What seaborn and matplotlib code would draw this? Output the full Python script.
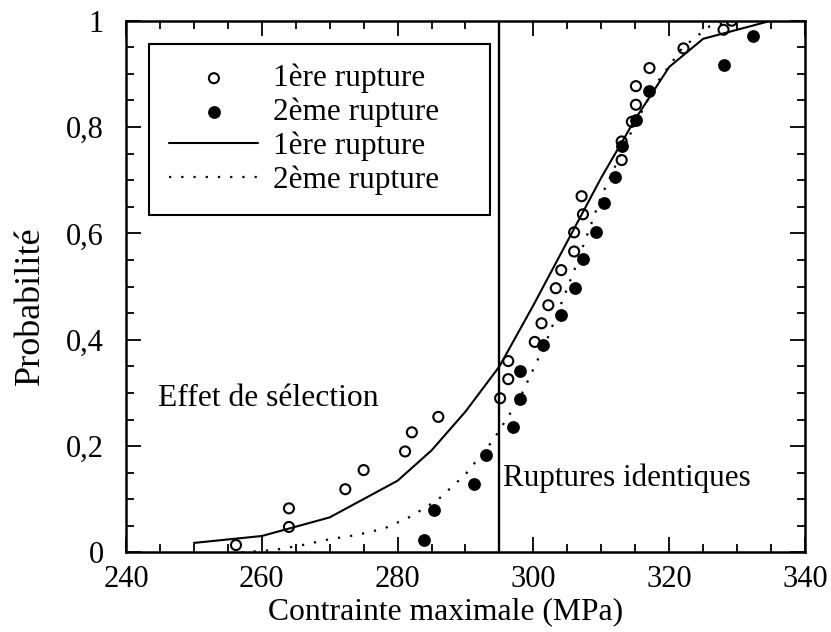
import seaborn as sns
import matplotlib.pyplot as plt
from matplotlib.ticker import MultipleLocator

# measured points (contrainte en MPa, probabilite)
first_x = [256.2, 264.0, 264.0, 272.3, 275.0, 281.1, 282.1, 286.0, 295.1, 296.3,
           296.3, 300.2, 301.2, 302.2, 303.3, 304.1, 306.0, 306.0, 307.3, 307.1,
           313.0, 313.0, 314.5, 315.1, 315.1, 317.1, 322.1, 328.0, 329.2]
first_y = [0.014, 0.048, 0.083, 0.119, 0.155, 0.190, 0.226, 0.255, 0.290, 0.326,
           0.360, 0.396, 0.431, 0.465, 0.497, 0.531, 0.566, 0.602, 0.636, 0.670,
           0.738, 0.773, 0.810, 0.842, 0.877, 0.911, 0.948, 0.983, 1.000]

second_x = [283.9, 285.3, 291.2, 293.0, 297.0, 298.1, 298.1, 301.4, 304.1, 306.2,
            307.3, 309.2, 310.4, 312.0, 313.0, 315.1, 317.1, 328.0, 332.3]
second_y = [0.024, 0.079, 0.128, 0.183, 0.236, 0.289, 0.341, 0.390, 0.446, 0.497,
            0.551, 0.602, 0.658, 0.707, 0.764, 0.814, 0.867, 0.917, 0.972]

# fitted curves
fit1_x = [250, 260, 270, 280, 285, 290, 295, 300, 305, 310, 315, 320, 325, 335]
fit1_y = [0.018, 0.031, 0.066, 0.135, 0.192, 0.265, 0.350, 0.465, 0.585, 0.705,
          0.815, 0.913, 0.966, 1.0]

fit2_x = [257, 262, 266, 270, 274, 278, 282, 286, 290, 294, 298, 302, 306, 310,
          314, 318, 322, 326, 330, 334]
fit2_y = [0.0, 0.005, 0.014, 0.025, 0.033, 0.045, 0.068, 0.100, 0.147, 0.210,
          0.290, 0.400, 0.530, 0.670, 0.780, 0.880, 0.950, 0.990, 1.0, 1.0]

seuil = 295
yticks = [0, 0.2, 0.4, 0.6, 0.8, 1]
ytick_labels = ["0", "0,2", "0,4", "0,6", "0,8", "1"]
xticks = [240, 260, 280, 300, 320, 340]

sns.set_theme(style="ticks")
plt.rcParams["font.family"] = ["Liberation Serif", "DejaVu Serif"]
plt.rcParams["text.color"] = "black"
plt.rcParams["axes.labelcolor"] = "black"

fig = plt.figure(figsize=(8.31, 6.32), dpi=100)
ax = fig.add_axes([0.1516, 0.1258, 0.8171, 0.8414])

sns.lineplot(x=fit1_x, y=fit1_y, sort=False, estimator=None, color="black",
             linewidth=1.5, label="1ère rupture", ax=ax)
sns.lineplot(x=fit2_x, y=fit2_y, sort=False, estimator=None, color="black",
             linewidth=1.6, linestyle=(0, (1, 4.5)), label="2ème rupture", ax=ax)
sns.scatterplot(x=first_x, y=first_y, marker="o", s=52, facecolors="none",
                edgecolors="black", linewidth=1.5, label="1ère rupture", ax=ax,
                zorder=3)
sns.scatterplot(x=second_x, y=second_y, marker="o", s=85, color="black",
                linewidth=0, label="2ème rupture", ax=ax, zorder=3)
ax.axvline(seuil, color="black", linewidth=1.7)

ax.text(244.7, 0.29, "Effet de sélection", fontsize=22.8, va="center", ha="left",
        color="black")
ax.text(295.5, 0.14, "Ruptures identiques", fontsize=22.3, va="center", ha="left",
        color="black")

ax.set_xlim(240, 340)
ax.set_ylim(0, 1)
ax.set_xticks(xticks)
ax.set_yticks(yticks)
ax.set_yticklabels(ytick_labels)
ax.xaxis.set_minor_locator(MultipleLocator(5))
ax.yaxis.set_minor_locator(MultipleLocator(0.05))
ax.tick_params(which="both", direction="in", top=True, right=True,
               width=1.3, labelsize=22, colors="black")
ax.tick_params(which="major", length=11)
ax.tick_params(which="minor", length=5.8)
ax.tick_params(axis="x", pad=9)
ax.tick_params(axis="y", pad=16)
for sp in ax.spines.values():
    sp.set_visible(True)
    sp.set_linewidth(1.8)
    sp.set_color("black")

ax.set_xlabel("Contrainte maximale (MPa)", fontsize=22.8, color="black")
ax.xaxis.set_label_coords(0.471, -0.1105)
ax.xaxis.label.set_va("center")
ax.set_ylabel("Probabilité", fontsize=26, color="black")
ax.yaxis.set_label_coords(-0.141, 0.465)
ax.yaxis.label.set_va("center")

handles, labels = ax.get_legend_handles_labels()
order = [2, 3, 0, 1]
leg = ax.legend([handles[i] for i in order], [labels[i] for i in order],
                loc="upper left", bbox_to_anchor=(0.034, 0.957, 0.502, 0),
                mode="expand", borderaxespad=0, fontsize=22.5, frameon=True,
                fancybox=False, edgecolor="black", framealpha=1,
                handlelength=2.85, handletextpad=0.45, labelspacing=0.14,
                borderpad=0.65, labelcolor="black")
leg.get_frame().set_linewidth(1.5)

fig.savefig("out.png", dpi=100)
